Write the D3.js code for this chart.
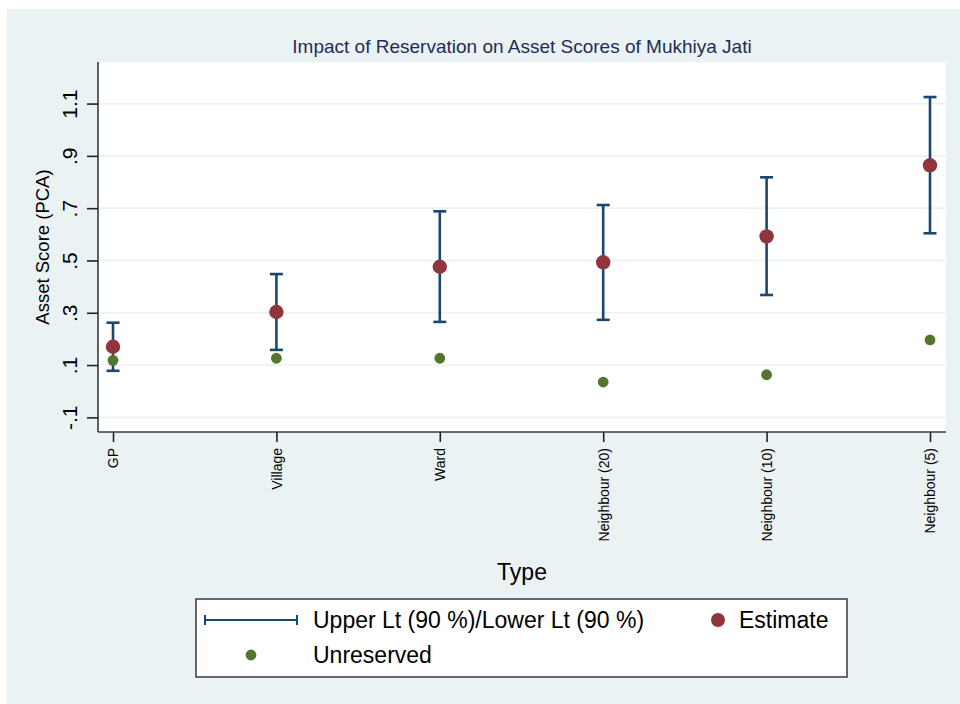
<!DOCTYPE html>
<html>
<head>
<meta charset="utf-8">
<script src="https://cdn.jsdelivr.net/npm/d3@7"></script>
<style>
    body { margin: 0; background: #ffffff; }
    svg text { font-family: "Liberation Sans", Arial, sans-serif; }
</style>
</head>
<body>
<div id="chart"></div>
<script>
var categories = ['GP', 'Village', 'Ward', 'Neighbour (20)', 'Neighbour (10)', 'Neighbour (5)'];
var estimate = [0.170, 0.303, 0.476, 0.493, 0.592, 0.864];
var upperLimit = [0.262, 0.448, 0.688, 0.712, 0.818, 1.125];
var lowerLimit = [0.078, 0.158, 0.265, 0.273, 0.368, 0.604];
var unreserved = [0.118, 0.126, 0.126, 0.035, 0.063, 0.196];
var yTicks = [-0.1, 0.1, 0.3, 0.5, 0.7, 0.9, 1.1];
var yTickLabels = ['-.1', '.1', '.3', '.5', '.7', '.9', '1.1'];

var Chart = {
    width: 960,
    height: 704,
    plot: {left: 98, right: 946, top: 62, bottom: 432},
    colors: {
        bg: '#eaf2f3',
        ci: '#1a476f',
        estimate: '#90353b',
        unreserved: '#55752f',
        title: '#1e2d58'
    },
    svg: '',
    x: '',
    y: '',
    draw: function () {
        this.defineCanvas()
            .defineScales()
            .drawGrid()
            .drawAxes()
            .drawMarks()
            .drawLegend();
    },
    defineCanvas: function () {
        this.svg = d3.select('#chart')
            .append('svg')
            .attr('width', this.width)
            .attr('height', this.height);

        this.svg.append('rect')
            .attr('x', 7).attr('y', 9)
            .attr('width', this.width - 7).attr('height', this.height - 9)
            .attr('fill', this.colors.bg);

        this.svg.append('rect')
            .attr('x', this.plot.left).attr('y', this.plot.top)
            .attr('width', this.plot.right - this.plot.left)
            .attr('height', this.plot.bottom - this.plot.top)
            .attr('fill', '#ffffff');

        this.svg.append('text')
            .attr('x', (this.plot.left + this.plot.right) / 2)
            .attr('y', 53)
            .attr('text-anchor', 'middle')
            .attr('fill', this.colors.title)
            .style('font-size', '19px')
            .text('Impact of Reservation on Asset Scores of Mukhiya Jati');

        return this;
    },
    defineScales: function () {
        this.x = d3.scalePoint()
            .domain(categories)
            .range([this.plot.left + 15, this.plot.right - 16]);

        this.y = d3.scaleLinear()
            .domain([-0.156, 1.259])
            .range([this.plot.bottom, this.plot.top]);

        return this;
    },
    drawGrid: function () {
        var p = this.plot;
        this.svg.append('g')
            .selectAll('line')
            .data(yTicks)
            .enter()
            .append('line')
            .attr('x1', p.left).attr('x2', p.right)
            .attr('y1', function (d) { return Chart.y(d); })
            .attr('y2', function (d) { return Chart.y(d); })
            .attr('stroke', this.colors.bg)
            .attr('stroke-width', 1.6);

        return this;
    },
    drawAxes: function () {
        var p = this.plot;

        var yAxis = this.svg.append('g')
            .attr('transform', 'translate(' + p.left + ',0)')
            .call(d3.axisLeft(this.y).tickValues(yTicks).tickSize(11).tickFormat(function (d, i) {
                return yTickLabels[i];
            }));
        yAxis.select('.domain').attr('d', 'M0,' + p.top + 'V' + p.bottom).attr('stroke', '#3a3a3a').attr('stroke-width', 1.6);
        yAxis.selectAll('.tick line').attr('stroke', '#222').attr('stroke-width', 1.6);
        yAxis.selectAll('.tick text')
            .attr('x', null).attr('dy', null)
            .attr('transform', 'translate(-21,0) rotate(-90)')
            .attr('text-anchor', 'middle')
            .attr('fill', '#000')
            .style('font-size', '21px');

        var xAxis = this.svg.append('g')
            .attr('transform', 'translate(0,' + p.bottom + ')')
            .call(d3.axisBottom(this.x).tickSize(10));
        xAxis.select('.domain').attr('d', 'M' + p.left + ',0H' + p.right).attr('stroke', '#3a3a3a').attr('stroke-width', 1.6);
        xAxis.selectAll('.tick line').attr('stroke', '#222').attr('stroke-width', 1.6);
        xAxis.selectAll('.tick text')
            .attr('y', null).attr('dy', null)
            .attr('transform', 'translate(0,16) rotate(-90)')
            .attr('dy', '0.35em')
            .attr('text-anchor', 'end')
            .attr('fill', '#000')
            .style('font-size', '14px');

        this.svg.append('text')
            .attr('transform', 'translate(49,' + (p.top + p.bottom) / 2 + ') rotate(-90)')
            .attr('text-anchor', 'middle')
            .attr('fill', '#000')
            .style('font-size', '18.5px')
            .text('Asset Score (PCA)');

        this.svg.append('text')
            .attr('x', (p.left + p.right) / 2)
            .attr('y', 580)
            .attr('text-anchor', 'middle')
            .attr('fill', '#000')
            .style('font-size', '23px')
            .text('Type');

        return this;
    },
    drawMarks: function () {
        var g = this.svg.append('g');
        var ci = g.selectAll('.ci')
            .data(categories)
            .enter()
            .append('g')
            .attr('class', 'ci')
            .attr('stroke', this.colors.ci)
            .attr('stroke-width', 2.6);

        ci.append('line')
            .attr('x1', function (d) { return Chart.x(d); })
            .attr('x2', function (d) { return Chart.x(d); })
            .attr('y1', function (d, i) { return Chart.y(upperLimit[i]); })
            .attr('y2', function (d, i) { return Chart.y(lowerLimit[i]); });

        [upperLimit, lowerLimit].forEach(function (limit) {
            ci.append('line')
                .attr('x1', function (d) { return Chart.x(d) - 6.5; })
                .attr('x2', function (d) { return Chart.x(d) + 6.5; })
                .attr('y1', function (d, i) { return Chart.y(limit[i]); })
                .attr('y2', function (d, i) { return Chart.y(limit[i]); });
        });

        g.selectAll('.unreserved')
            .data(categories)
            .enter()
            .append('circle')
            .attr('cx', function (d) { return Chart.x(d); })
            .attr('cy', function (d, i) { return Chart.y(unreserved[i]); })
            .attr('r', 5.4)
            .attr('fill', this.colors.unreserved);

        g.selectAll('.estimate')
            .data(categories)
            .enter()
            .append('circle')
            .attr('cx', function (d) { return Chart.x(d); })
            .attr('cy', function (d, i) { return Chart.y(estimate[i]); })
            .attr('r', 7.2)
            .attr('fill', this.colors.estimate);

        return this;
    },
    drawLegend: function () {
        var lg = this.svg.append('g');

        lg.append('rect')
            .attr('x', 196).attr('y', 599)
            .attr('width', 651).attr('height', 78)
            .attr('fill', '#ffffff')
            .attr('stroke', '#444')
            .attr('stroke-width', 1.6);

        lg.append('path')
            .attr('d', 'M205,620H297M205,615V625M297,615V625')
            .attr('fill', 'none')
            .attr('stroke', this.colors.ci)
            .attr('stroke-width', 2);

        lg.append('circle')
            .attr('cx', 718).attr('cy', 620).attr('r', 7)
            .attr('fill', this.colors.estimate);

        lg.append('circle')
            .attr('cx', 251).attr('cy', 655).attr('r', 5.4)
            .attr('fill', this.colors.unreserved);

        var labels = [
            {x: 313, y: 628, text: 'Upper Lt (90 %)/Lower Lt (90 %)'},
            {x: 739, y: 628, text: 'Estimate'},
            {x: 313, y: 663, text: 'Unreserved'}
        ];
        lg.selectAll('.label')
            .data(labels)
            .enter()
            .append('text')
            .attr('x', function (d) { return d.x; })
            .attr('y', function (d) { return d.y; })
            .attr('fill', '#000')
            .style('font-size', '23px')
            .text(function (d) { return d.text; });

        return this;
    }
};

Chart.draw();
</script>
</body>
</html>
